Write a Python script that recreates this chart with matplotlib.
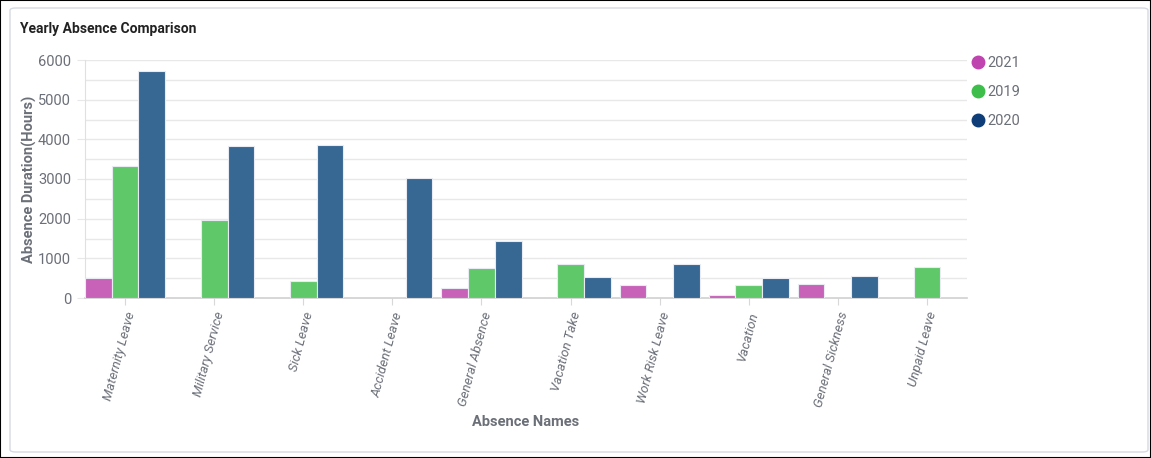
import matplotlib.pyplot as plt
import numpy as np
from matplotlib.patches import FancyBboxPatch
from matplotlib.lines import Line2D

names = ['Maternity Leave', 'Military Service', 'Sick Leave', 'Accident Leave',
         'General Absence', 'Vacation Take', 'Work Risk Leave', 'Vacation',
         'General Sickness', 'Unpaid Leave']
years = ['2021', '2019', '2020']
hours_2021 = [510, 0, 0, 0, 240, 0, 320, 70, 360, 0]
hours_2019 = [3330, 1960, 420, 0, 750, 860, 0, 320, 0, 780]
hours_2020 = [5720, 3840, 3850, 3030, 1430, 530, 860, 500, 550, 0]

bar_colors = ['#c862b8', '#5fc96a', '#376793']
dot_colors = ['#c044b0', '#3dbe4b', '#0e3d78']

plt.rcParams['font.family'] = ['Roboto', 'DejaVu Sans']

fig = plt.figure(figsize=(11.51, 4.58), dpi=100)

# card outline
fig.patches.append(FancyBboxPatch((10 / 1151, 6 / 458), 1138 / 1151, 444 / 458,
                                  boxstyle='round,pad=0,rounding_size=0.005',
                                  transform=fig.transFigure, fc='white',
                                  ec='#d5dae3', lw=1, zorder=-5))
fig.patches.append(plt.Rectangle((0, 0), 1, 1, transform=fig.transFigure,
                                 fill=False, ec='black', lw=1.5, zorder=-4))

ax = fig.add_axes([85 / 1151, 160 / 458, 882 / 1151, 238 / 458])
ax.patch.set_alpha(0)

x = np.arange(len(names))
w = 0.3
series = [hours_2021, hours_2019, hours_2020]
for i, vals in enumerate(series):
    ax.bar(x + (i - 1) * w, vals, w, color=bar_colors[i], edgecolor='#e8ecf2',
           linewidth=0.8, zorder=3)

ax.set_xlim(-0.45, len(names) - 0.55)
ax.set_ylim(0, 6000)
ax.set_yticks(np.arange(0, 6001, 1000))
ax.set_yticks(np.arange(500, 6000, 1000), minor=True)
ax.grid(axis='y', which='both', color='#e8e8e8', lw=1, zorder=0)
ax.tick_params(axis='y', which='major', length=6, color='#e8e8e8',
               labelcolor='#6b6f78', labelsize=10.5, pad=4)
ax.tick_params(axis='y', which='minor', length=0)
ax.set_xticks(x)
ax.set_xticklabels(names, rotation=75, ha='right', va='top',
                   rotation_mode='anchor', fontsize=9.5, color='#6b6f78',
                   style='italic')
ax.tick_params(axis='x', length=5, color='#d8d8d8', pad=4)

for s in ['top', 'right']:
    ax.spines[s].set_visible(False)
ax.spines['left'].set_color('#e0e0e0')
ax.spines['bottom'].set_color('#d0d0d0')
ax.spines['bottom'].set_linewidth(1.2)

ax.set_ylabel('Absence Duration(Hours)', fontsize=10.5, fontweight='bold',
              color='#6b6f78', labelpad=1)
ax.set_xlabel('Absence Names', fontsize=10.5, fontweight='bold',
              color='#6b6f78', labelpad=4)

fig.text(20 / 1151, 1 - 29 / 458, 'Yearly Absence Comparison', fontsize=10,
         fontweight='bold', color='#222222', va='center')

handles = [Line2D([], [], marker='o', ls='', markersize=9, color=c) for c in dot_colors]
leg = fig.legend(handles, years, loc='upper left',
                 bbox_to_anchor=(963 / 1151, 1 - 50 / 458), frameon=False,
                 handletextpad=0.1, labelspacing=1.05, fontsize=10.5,
                 handlelength=1.2, borderaxespad=0)
for t in leg.get_texts():
    t.set_color('#6b6f78')

fig.savefig('out.png', dpi=100)
